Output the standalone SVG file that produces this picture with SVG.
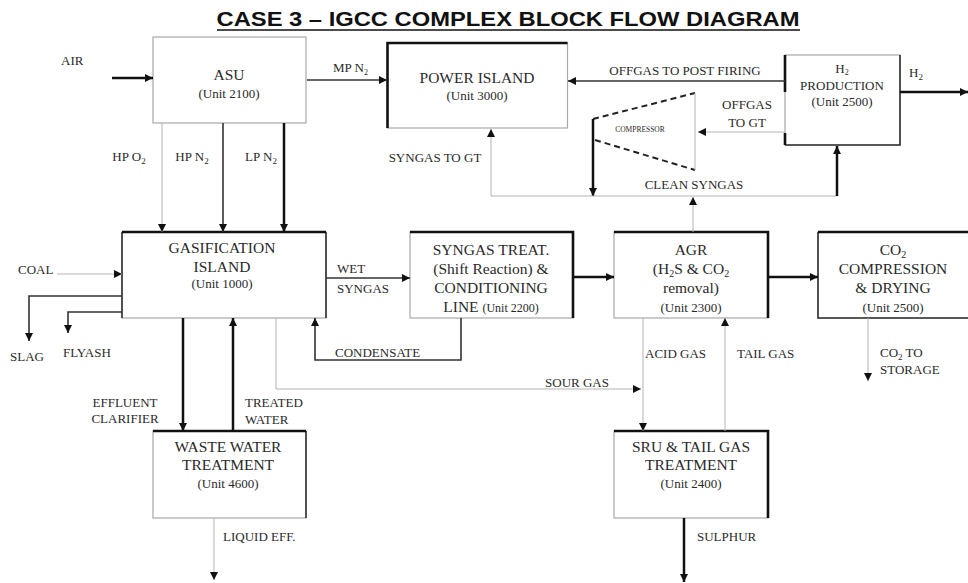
<svg xmlns="http://www.w3.org/2000/svg" width="968" height="583" viewBox="0 0 968 583">
  <defs>
    <marker id="arr" viewBox="0 0 10 10" refX="10" refY="5" markerWidth="9" markerHeight="8" markerUnits="userSpaceOnUse" orient="auto">
      <path d="M0,0 L10,5 L0,10 z" fill="#111"/>
    </marker>
    <style>
      .box { fill: #fff; stroke: #a8a8a8; stroke-width: 1.2; }
      .edge { fill: none; stroke: #111; stroke-width: 2.6; }
      .edgem { fill: none; stroke: #333; stroke-width: 1.6; }
      .thick { fill: none; stroke: #111; stroke-width: 2.5; }
      .med { fill: none; stroke: #333; stroke-width: 1.6; }
      .thin { fill: none; stroke: #b4b4b4; stroke-width: 1; }
      .dash { fill: none; stroke: #222; stroke-width: 2; stroke-dasharray: 6 4; }
      text { font-family: "Liberation Serif", "Times New Roman", serif; fill: #2a2a2a; }
      .t { font-size: 15.5px; text-anchor: middle; }
      .u { font-size: 13px; text-anchor: middle; }
      .l { font-size: 13px; }
      .lc { font-size: 13px; text-anchor: middle; }
      .title { font-family: "Liberation Sans", Arial, sans-serif; font-weight: bold; font-size: 21px; fill: #111; text-anchor: middle; }
    </style>
  </defs>

  <!-- heading -->
  <text class="title" x="508" y="26" textLength="583" lengthAdjust="spacingAndGlyphs">CASE 3 – IGCC COMPLEX BLOCK FLOW DIAGRAM</text>
  <line x1="217" y1="30" x2="800" y2="30" stroke="#111" stroke-width="1.6"/>

  <!-- process units -->
  <g id="asu">
    <rect class="box" x="153" y="37" width="153" height="86" stroke="#666"/>
    <text class="t" x="229" y="80">ASU</text>
    <text class="u" x="229" y="98">(Unit 2100)</text>
  </g>

  <g id="power-island">
    <rect class="box" x="387.5" y="43" width="180" height="85"/>
    <path class="edge" d="M387.5,128 V43 H567.5"/>
    <text class="t" x="477" y="83">POWER ISLAND</text>
    <text class="u" x="477" y="100">(Unit 3000)</text>
  </g>

  <g id="h2-production">
    <rect class="box" x="785" y="55" width="115" height="90"/>
    <path class="edgem" d="M900,55 V145 H785"/>
    <path class="edge" d="M785,55 V92 M785,133 V145"/>
    <text class="u" x="842" y="73" font-size="12">H<tspan font-size="8" dy="2">2</tspan></text>
    <text class="u" x="842" y="90" font-size="12.5">PRODUCTION</text>
    <text class="u" x="842" y="106" font-size="12.5">(Unit 2500)</text>
  </g>

  <g id="compressor">
    <path class="dash" d="M593,119 L695,93 M595,140 L695,170"/>
    <line class="thin" x1="695" y1="93" x2="695" y2="170"/>
    <text x="640" y="132" font-size="7.5" text-anchor="middle">COMPRESSOR</text>
  </g>

  <g id="gasification-island">
    <rect class="box" x="122" y="232" width="204" height="86"/>
    <path class="edgem" d="M122,318 V232 M326,232 V318"/>
    <path class="edge" d="M122,232 H326"/>
    <text class="t" x="222" y="253">GASIFICATION</text>
    <text class="t" x="222" y="272">ISLAND</text>
    <text class="u" x="222" y="288">(Unit 1000)</text>
  </g>

  <g id="syngas-treatment">
    <rect class="box" x="410" y="232" width="163" height="86"/>
    <path class="edge" d="M410,232 H573 V318"/>
    <text class="t" x="491" y="255">SYNGAS TREAT.</text>
    <text class="t" x="491" y="274">(Shift Reaction) &amp;</text>
    <text class="t" x="491" y="293">CONDITIONING</text>
    <text class="t" x="491" y="312">LINE <tspan font-size="12">(Unit 2200)</tspan></text>
  </g>

  <g id="agr">
    <rect class="box" x="614" y="232" width="154" height="86"/>
    <path class="edge" d="M614,232 H768 V318"/>
    <text class="t" x="691" y="255">AGR</text>
    <text class="t" x="691" y="274">(H<tspan font-size="10" dy="3">2</tspan><tspan dy="-3">S &amp; CO</tspan><tspan font-size="10" dy="3">2</tspan></text>
    <text class="t" x="691" y="293">removal)</text>
    <text class="u" x="691" y="312">(Unit 2300)</text>
  </g>

  <g id="co2-compression">
    <rect class="box" x="818" y="232" width="160" height="86"/>
    <path class="edgem" d="M818,232 V318 H968"/>
    <path class="edge" d="M818,232 H968"/>
    <text class="t" x="893" y="255">CO<tspan font-size="10" dy="3">2</tspan></text>
    <text class="t" x="893" y="274">COMPRESSION</text>
    <text class="t" x="893" y="293">&amp; DRYING</text>
    <text class="u" x="893" y="312">(Unit 2500)</text>
  </g>

  <g id="waste-water-treatment">
    <rect class="box" x="153" y="431" width="153" height="87"/>
    <path class="edgem" d="M306,431 V518"/>
    <path class="edge" d="M153,431 H306"/>
    <text class="t" x="228" y="452">WASTE WATER</text>
    <text class="t" x="228" y="470">TREATMENT</text>
    <text class="u" x="228" y="488">(Unit 4600)</text>
  </g>

  <g id="sru">
    <rect class="box" x="614" y="431" width="154" height="87"/>
    <path class="edge" d="M614,431 H768 V518"/>
    <text class="t" x="691" y="452">SRU &amp; TAIL GAS</text>
    <text class="t" x="691" y="470">TREATMENT</text>
    <text class="u" x="691" y="488">(Unit 2400)</text>
  </g>

  <!-- streams -->
  <g id="connectors">
    <line class="thick" x1="112" y1="78" x2="153" y2="78" marker-end="url(#arr)"/>
    <line class="med" x1="307" y1="80" x2="387" y2="80" marker-end="url(#arr)"/>
    <line class="med" x1="785" y1="81" x2="568" y2="81" marker-end="url(#arr)"/>
    <line class="thick" x1="900" y1="92" x2="968" y2="92" marker-end="url(#arr)"/>
    <line class="thin" x1="785" y1="132" x2="698" y2="132" marker-end="url(#arr)"/>
    <line class="thick" x1="593" y1="119" x2="593" y2="196" marker-end="url(#arr)"/>
    <path class="thin" d="M491,196 H837"/>
    <line class="thin" x1="491" y1="196" x2="491" y2="129" marker-end="url(#arr)"/>
    <line class="thick" x1="837" y1="196" x2="837" y2="146" marker-end="url(#arr)"/>
    <line class="thin" x1="693" y1="232" x2="693" y2="197" marker-end="url(#arr)"/>

    <line class="thin" x1="162" y1="123" x2="162" y2="232" marker-end="url(#arr)"/>
    <line class="med" x1="223" y1="123" x2="223" y2="232" stroke="#555" stroke-width="1.2" marker-end="url(#arr)"/>
    <line class="thick" x1="284" y1="123" x2="284" y2="232" marker-end="url(#arr)"/>

    <line class="thin" x1="57" y1="274" x2="122" y2="274" marker-end="url(#arr)"/>
    <path class="med" d="M122,296 H29 V341" marker-end="url(#arr)"/>
    <path class="med" d="M122,312 H68 V333" marker-end="url(#arr)"/>
    <line class="med" x1="326" y1="278" x2="410" y2="278" marker-end="url(#arr)"/>
    <line class="thick" x1="573" y1="277" x2="614" y2="277" marker-end="url(#arr)"/>
    <line class="thick" x1="768" y1="277" x2="818" y2="277" marker-end="url(#arr)"/>
    <path class="med" d="M461,318 V360 H315 V318" marker-end="url(#arr)"/>

    <line class="thick" x1="183" y1="318" x2="183" y2="431" marker-end="url(#arr)"/>
    <line class="thick" x1="233" y1="431" x2="233" y2="318" marker-end="url(#arr)"/>
    <path class="thin" d="M276,318 V389 H641" marker-end="url(#arr)"/>
    <line class="thin" x1="643" y1="318" x2="643" y2="431" marker-end="url(#arr)"/>
    <line class="thin" x1="725" y1="431" x2="725" y2="318" marker-end="url(#arr)"/>
    <line class="thin" x1="868" y1="318" x2="868" y2="381" marker-end="url(#arr)"/>
    <line class="thin" x1="214" y1="518" x2="214" y2="580" marker-end="url(#arr)"/>
    <line class="thick" x1="684" y1="518" x2="684" y2="582" marker-end="url(#arr)"/>
  </g>

  <!-- stream labels -->
  <g id="labels">
    <text class="l" x="61" y="65" font-size="12">AIR</text>
    <text class="l" x="333" y="72" font-size="12">MP N<tspan font-size="8" dy="3">2</tspan></text>
    <text class="lc" x="685" y="75">OFFGAS TO POST FIRING</text>
    <text class="l" x="909" y="77">H<tspan font-size="9" dy="3">2</tspan></text>
    <text class="lc" x="747" y="109" font-size="11.5">OFFGAS</text>
    <text class="lc" x="747" y="127" font-size="11.5">TO GT</text>
    <text class="lc" x="435" y="162">SYNGAS TO GT</text>
    <text class="lc" x="694" y="189">CLEAN SYNGAS</text>
    <text class="lc" x="129" y="161">HP O<tspan font-size="9" dy="3">2</tspan></text>
    <text class="lc" x="192" y="161">HP N<tspan font-size="9" dy="3">2</tspan></text>
    <text class="lc" x="261" y="161">LP N<tspan font-size="9" dy="3">2</tspan></text>
    <text class="l" x="18" y="274" font-size="12">COAL</text>
    <text class="l" x="337" y="273" font-size="12">WET</text>
    <text class="l" x="337" y="293" font-size="12">SYNGAS</text>
    <text class="l" x="10" y="361" font-size="12">SLAG</text>
    <text class="l" x="63" y="357" font-size="12">FLYASH</text>
    <text class="l" x="335" y="357" font-size="12">CONDENSATE</text>
    <text class="lc" x="577" y="387">SOUR GAS</text>
    <text class="l" x="645" y="358">ACID GAS</text>
    <text class="l" x="737" y="358">TAIL GAS</text>
    <text class="l" x="880" y="357">CO<tspan font-size="9" dy="3">2</tspan><tspan dy="-3"> TO</tspan></text>
    <text class="l" x="880" y="374">STORAGE</text>
    <text class="lc" x="125" y="407">EFFLUENT</text>
    <text class="lc" x="125" y="423">CLARIFIER</text>
    <text class="l" x="245" y="407">TREATED</text>
    <text class="l" x="245" y="424">WATER</text>
    <text class="l" x="223" y="541">LIQUID EFF.</text>
    <text class="l" x="697" y="541">SULPHUR</text>
  </g>
</svg>
